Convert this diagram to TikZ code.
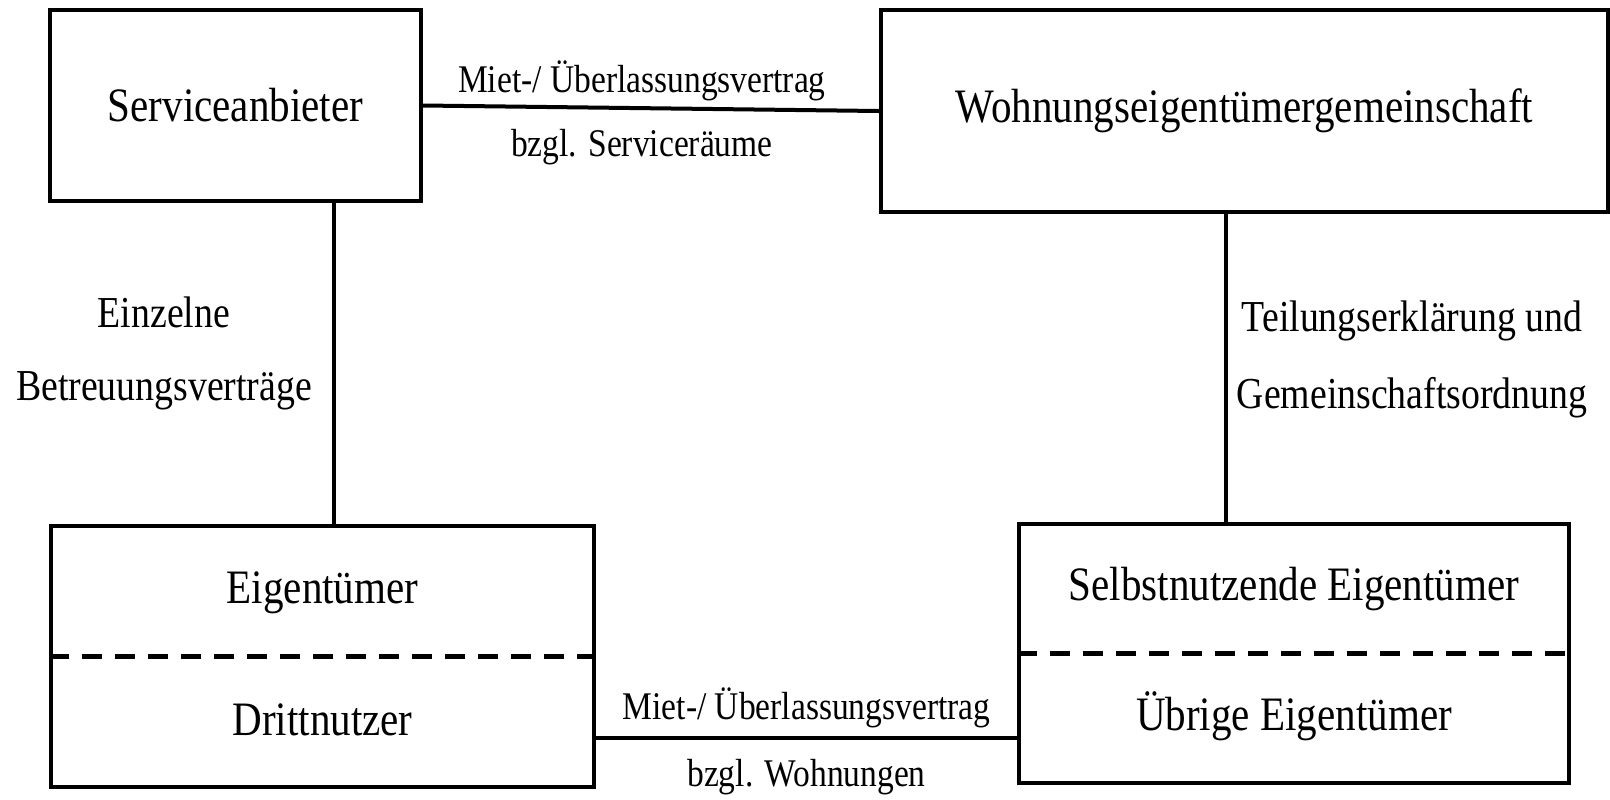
\documentclass[tikz,border=0pt]{standalone}
\usepackage{fontspec}
\setmainfont{Liberation Serif}[FakeStretch=0.855]
\tikzstyle{every path}=[line width=2pt]
\tikzstyle{party} = [draw, rectangle, line width=2pt, inner sep=0pt, font=\fontsize{24}{29}\selectfont]
\tikzstyle{partytext} = [inner sep=0pt, font=\fontsize{24}{29}\selectfont]
\tikzstyle{contract} = [inner sep=0pt, font=\fontsize{19.6}{24}\selectfont]
\tikzstyle{basis} = [inner sep=0pt, font=\fontsize{22.1}{27}\selectfont]
\tikzstyle{divider} = [dash pattern=on 10pt off 6.5pt, line width=2.5pt]

\begin{document}
\begin{tikzpicture}[x=0.5pt, y=-0.5pt]
            \useasboundingbox (0,0) rectangle (1610,799);

            \node[party, minimum width=185.5pt, minimum height=95.5pt] (sa) at (235.5,105.5) {Serviceanbieter};
            \node[party, minimum width=363.5pt, minimum height=101pt] (wg) at (1244.5,111) {Wohnungseigentümergemeinschaft};
            \node[party, minimum width=271.5pt, minimum height=130.5pt] (eig) at (322.5,656.5) {};
            \node[party, minimum width=275pt, minimum height=129.5pt] (sn) at (1294,653.5) {};

            \node[partytext] (eigup) at ([yshift=32pt]eig.center) {Eigentümer};
            \node[partytext] (eigdown) at ([yshift=-31.5pt]eig.center) {Drittnutzer};
            \draw[divider] (eig.west) -- (eig.east);
            \node[partytext] (snup) at ([yshift=32pt]sn.center) {Selbstnutzende Eigentümer};
            \node[partytext] (sndown) at ([yshift=-31.5pt]sn.center) {Übrige Eigentümer};
            \draw[divider] (sn.west) -- (sn.east);

            \coordinate (lv) at (334,0);
            \coordinate (rv) at (1226,0);
            \coordinate (bl) at (0,738);

            \draw (sa.east) -- (wg.west)
                node[contract, pos=0.48, yshift=13.5pt] (leasetop) {Miet-/ Überlassungsvertrag}
                node[contract, pos=0.48, yshift=-19.5pt] (rooms) {bzgl. Serviceräume};
            \draw[line width=1.6pt] (sa.south -| lv) -- (eig.north -| lv)
                node[basis, pos=0.34, xshift=-85pt] (single) {Einzelne}
                node[basis, pos=0.585, xshift=-85pt] (care) {Betreuungsverträge};
            \draw[line width=1.6pt] (wg.south -| rv) -- (sn.north -| rv)
                node[basis, pos=0.346, xshift=93pt] (division) {Teilungserklärung und}
                node[basis, pos=0.596, xshift=93pt] (order) {Gemeinschaftsordnung};
            \draw (eig.east |- bl) -- (sn.west |- bl)
                node[contract, pos=0.5, yshift=15pt] (leasebot) {Miet-/ Überlassungsvertrag}
                node[contract, pos=0.5, yshift=-19.5pt] (flats) {bzgl. Wohnungen};
        \end{tikzpicture}
\end{document}
